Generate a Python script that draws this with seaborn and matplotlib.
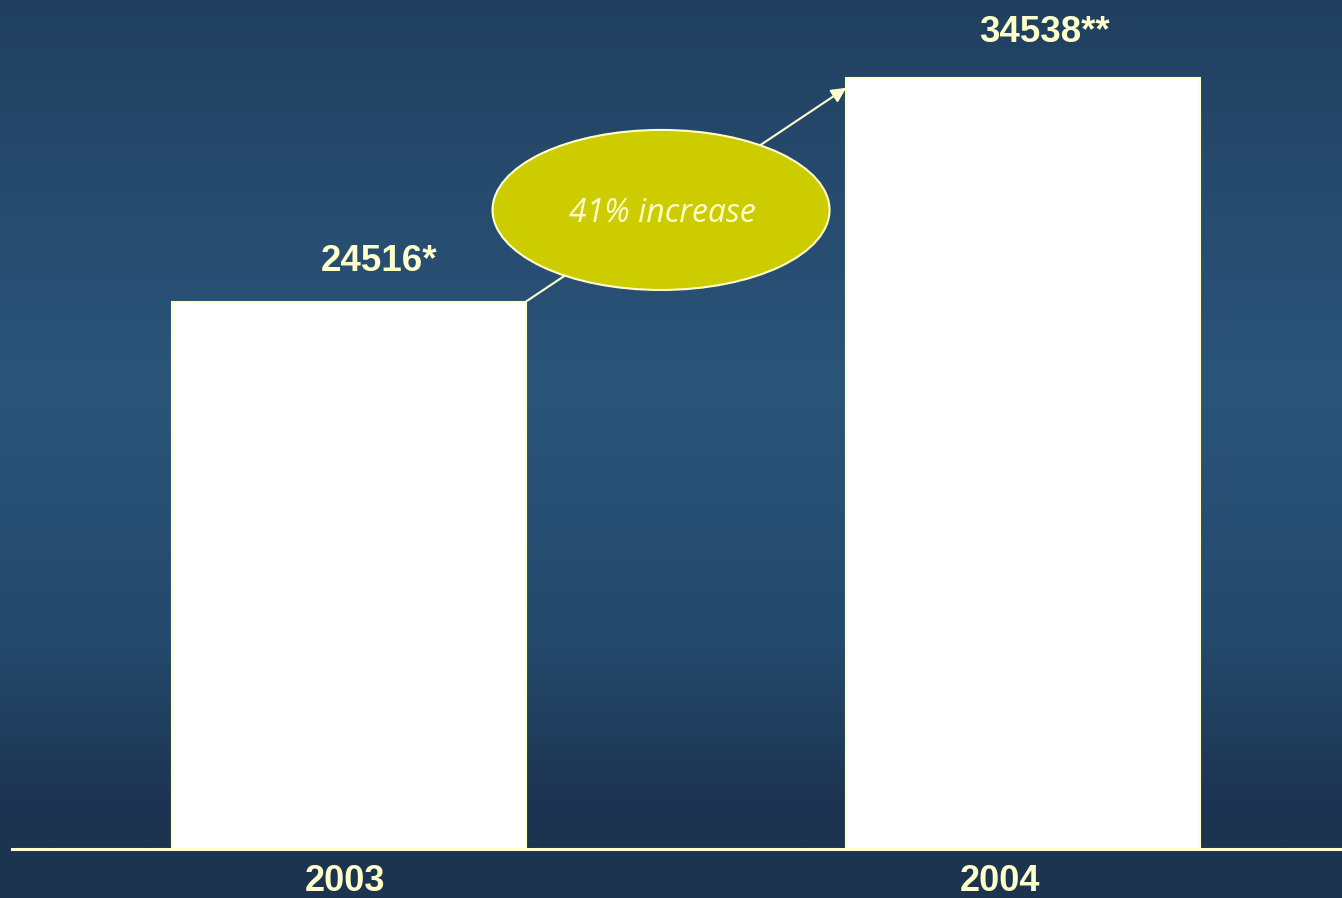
import numpy as np
import pandas as pd
import matplotlib
matplotlib.use("Agg")
import matplotlib.pyplot as plt
from matplotlib.colors import LinearSegmentedColormap
from matplotlib.patches import Ellipse
from matplotlib.transforms import ScaledTranslation
import seaborn as sns

# Data
years = ["2003", "2004"]
values = [24516, 34538]
value_labels = ["24516*", "34538**"]
change_label = "41% increase"

df = pd.DataFrame({"year": years, "count": values})

CREAM = "#ffffcc"
BG_BOTTOM = "#1c344f"

sns.set_theme(style="white")
plt.rcParams["font.family"] = ["Liberation Sans", "DejaVu Sans"]

fig = plt.figure(figsize=(13.42, 8.98), dpi=100)
fig.patch.set_facecolor(BG_BOTTOM)

# Vertical gradient backdrop
bg = fig.add_axes([0, 0, 1, 1], zorder=0)
grad_cmap = LinearSegmentedColormap.from_list(
    "bg", [(0.0, "#1c3450"), (0.06, "#1d3552"), (0.25, "#244a6d"),
           (0.55, "#2a5479"), (0.80, "#264a6d"), (1.0, "#203f5f")])
g = np.linspace(0, 1, 400).reshape(-1, 1)
bg.imshow(g, aspect="auto", cmap=grad_cmap, origin="lower",
          extent=[0, 1, 49 / 898, 1])
bg.axhspan(0, 49 / 898, color=BG_BOTTOM)
bg.set_xlim(0, 1)
bg.set_ylim(0, 1)
bg.axis("off")

ax = fig.add_axes([12 / 1342, 49 / 898, 1 - 12 / 1342, 849 / 898], zorder=1)
ax.patch.set_alpha(0)

sns.barplot(data=df, x="year", y="count", ax=ax, color="white",
            width=0.525, edgecolor=CREAM, linewidth=1.5, saturation=1)

ax.set_xlim(-0.5, 1.473)
ax.set_ylim(0, 38020)
ax.set_xlabel("")
ax.set_ylabel("")
ax.set_yticks([])
for s in ["top", "right", "left"]:
    ax.spines[s].set_visible(False)
ax.spines["bottom"].set_color(CREAM)
ax.spines["bottom"].set_linewidth(2.2)
ax.tick_params(axis="x", length=0, pad=11, labelsize=26, labelcolor=CREAM)
for lab, dx in zip(ax.get_xticklabels(), [-4, -23]):
    lab.set_fontweight("bold")
    lab.set_transform(lab.get_transform() + ScaledTranslation(dx / 100, 0, fig.dpi_scale_trans))

# Value labels above bars
offsets = [(30, 40), (21, 45)]
for i, (v, txt) in enumerate(zip(values, value_labels)):
    ax.annotate(txt, xy=(i, v), xytext=offsets[i], textcoords="offset pixels",
                ha="center", va="center", fontsize=26.5, fontweight="bold",
                color=CREAM)

# Arrow linking the bar tops
half = 0.525 / 2
ax.annotate("", xy=(1 - half, values[1] - 450), xytext=(0 + half, values[0]),
            arrowprops=dict(arrowstyle="-|>", color=CREAM, lw=1.5,
                            mutation_scale=22, shrinkA=0, shrinkB=0),
            zorder=3)

# Growth callout
ell = Ellipse((0.488, 0.7527), 0.2534, 0.1885, transform=ax.transAxes,
              facecolor="#cccc00", edgecolor=CREAM, lw=1.5, zorder=4)
ax.add_patch(ell)
ax.text(0.489, 0.7485, change_label, transform=ax.transAxes, ha="center",
        va="center", fontsize=23, fontstyle="italic",
        color=CREAM, family=["Open Sans", "DejaVu Sans"], zorder=5)

fig.savefig("out.png", dpi=100, facecolor=fig.get_facecolor())
